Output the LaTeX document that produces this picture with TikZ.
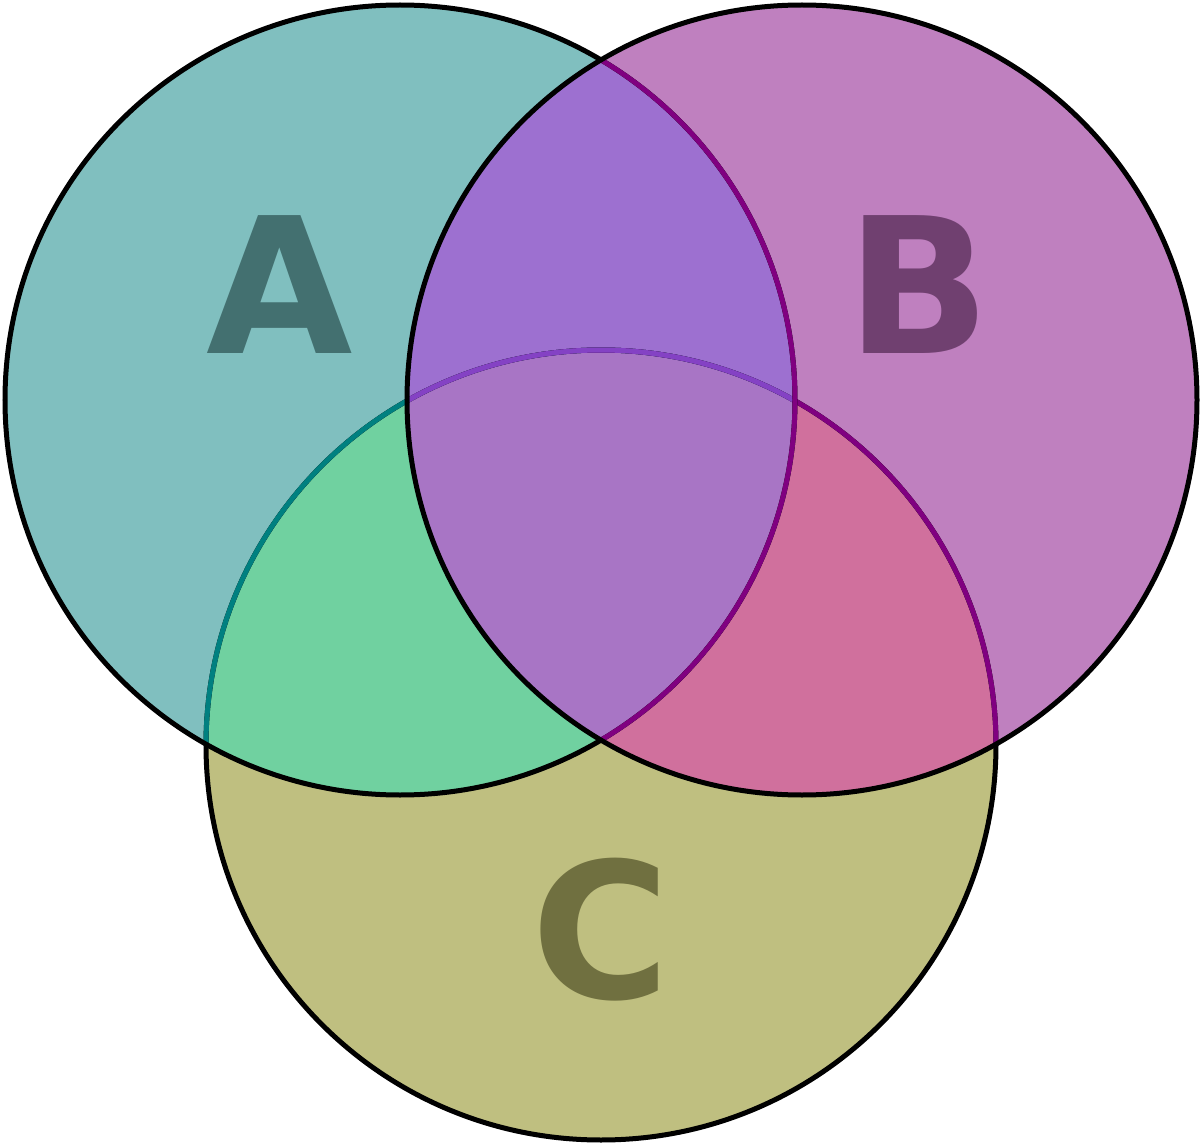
\documentclass[tikz,border=0pt]{standalone}
\usepackage{fontspec}
\setmainfont{DejaVu Sans}
\definecolor{fA}{HTML}{80BFBF}
\definecolor{fB}{HTML}{BF80BF}
\definecolor{fC}{HTML}{BFBF80}
\definecolor{fAB}{HTML}{9D70D0}
\definecolor{fAC}{HTML}{70D1A0}
\definecolor{fBC}{HTML}{D0709D}
\definecolor{fABC}{HTML}{A875C5}
\definecolor{sA}{HTML}{008080}
\definecolor{sB}{HTML}{800080}
\definecolor{sAB}{HTML}{8442C4}
\definecolor{tA}{HTML}{437070}
\definecolor{tB}{HTML}{704070}
\definecolor{tC}{HTML}{707040}
\def\circA{(400,400) circle[radius=395]}
\def\circB{(802,400) circle[radius=395]}
\def\circC{(601,745) circle[radius=395]}
\tikzset{
  outline/.style={line width=2.5pt},
  letter/.style={anchor=base, inner sep=0pt, font=\fontsize{94.6pt}{100pt}\selectfont\bfseries}
}
\begin{document}
\begin{tikzpicture}[x=0.5pt,y=-0.5pt]
\useasboundingbox (0,0) rectangle (1201,1145);
% fills
\fill[fA] \circA;
\fill[fB] \circB;
\fill[fC] \circC;
\begin{scope}\clip \circA; \fill[fAB] \circB; \end{scope}
\begin{scope}\clip \circA; \fill[fAC] \circC; \end{scope}
\begin{scope}\clip \circB; \fill[fBC] \circC; \end{scope}
\begin{scope}\clip \circA; \clip \circB; \fill[fABC] \circC; \end{scope}
% letters
\node[letter, text=tA] (labA) at (280,353) {A};
\node[letter, text=tB] (labB) at (919,353) {B};
\node[letter, text=tC] (labC) at (601,998) {C};
% strokes of C
\draw[outline] \circC;
\begin{scope}\clip \circA; \draw[outline, sA] \circC; \end{scope}
\begin{scope}\clip \circB; \draw[outline, sB] \circC; \end{scope}
\begin{scope}\clip \circA; \clip \circB; \draw[outline, sAB] \circC; \end{scope}
% strokes of A
\draw[outline] \circA;
\begin{scope}\clip \circB; \draw[outline, sB] \circA; \end{scope}
% stroke of B
\draw[outline] \circB;
\end{tikzpicture}
\end{document}
